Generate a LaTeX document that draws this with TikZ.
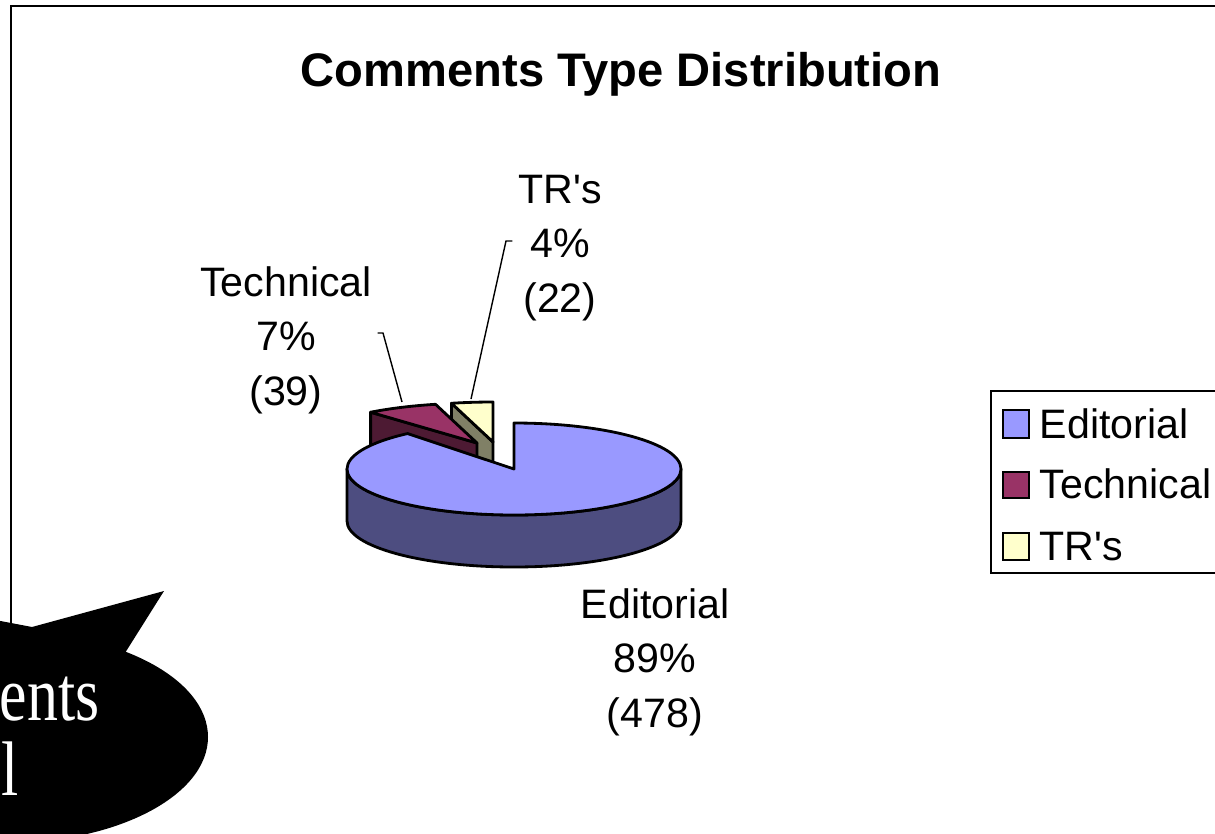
\documentclass[tikz,border=0pt]{standalone}
\usepackage{fontspec}
\setmainfont{Liberation Sans}
\newfontfamily\calloutfont{Liberation Serif}
\usepackage{graphicx}
\definecolor{edtop}{HTML}{9999FF}
\definecolor{edside}{HTML}{4D4D80}
\definecolor{techtop}{HTML}{993366}
\definecolor{techside}{HTML}{4D1A33}
\definecolor{trtop}{HTML}{FFFFCC}
\definecolor{trside}{HTML}{808066}
\tikzset{
  frame/.style={draw=black,line width=0.7pt},
  edge/.style={draw=black,line width=0.8pt,line join=round},
  lbl/.style={align=center,inner sep=1.5pt,font=\fontsize{11.7}{15.5}\selectfont},
  leader/.style={draw=black,line width=0.4pt},
  legsq/.style={draw=black,line width=0.6pt},
  legtxt/.style={anchor=base west,inner sep=0pt,font=\fontsize{11.7}{15.5}\selectfont},
  callout/.style={text=white,inner sep=0pt,font=\calloutfont\fontsize{22}{26}\selectfont}
}

\begin{document}
\begin{tikzpicture}[x=0.01cm,y=0.01cm]
                    \useasboundingbox (0,0) rectangle (1215,-833);
                    \clip (0,0) rectangle (1215,-833);
                    \draw[frame] (11,-6) rectangle (1240,-860);
                    \node[anchor=base,inner sep=0pt,font=\fontsize{13.4}{16}\selectfont\bfseries] (title) at (621,-86) {Comments Type Distribution};

                    \filldraw[edge,fill=trside] (451.5,-403.3) -- (493,-442) -- (493,-494) -- (451.5,-455.3) -- cycle;
                    \filldraw[edge,fill=trtop] (493,-442) -- (493,-402) arc[start angle=90,end angle=104.4,x radius=167,y radius=40] -- cycle;

                    \filldraw[edge,fill=techside] (370.6,-412.2) -- (477,-443) -- (477,-495) -- (370.6,-464.2) -- cycle;
                    \filldraw[edge,fill=techtop] (477,-443) -- (435.5,-404.3) arc[start angle=104.4,end angle=129.6,x radius=167,y radius=40] -- cycle;

                    \filldraw[edge,fill=edside] (681,-469) arc[start angle=0,end angle=-180,x radius=167,y radius=46] -- (347,-521) arc[start angle=180,end angle=360,x radius=167,y radius=46] -- cycle;
                    \filldraw[edge,fill=edtop] (514,-469) -- (514,-423) arc[start angle=90,end angle=-230.4,x radius=167,y radius=46] -- cycle;

                    \node[lbl] (techlbl) at (286,-340) {Technical\\7\%\\(39)};
                    \node[lbl] (trlbl) at (560,-248) {TR\textquotesingle s\\4\%\\(22)};
                    \node[lbl] (edlbl) at (655,-662) {Editorial\\89\%\\(478)};

                    \coordinate (techknee) at (383,-333);
                    \coordinate (techtip) at (402,-402);
                    \coordinate (trknee) at (506,-241);
                    \coordinate (trtip) at (471,-399);
                    \draw[leader] (techlbl.east |- techknee) -- (techknee) -- (techtip);
                    \draw[leader] (trlbl.west |- trknee) -- (trknee) -- (trtip);

                    \draw[frame] (991,-391) rectangle (1240,-573);
                    \draw[legsq,fill=edtop] (1003,-410) rectangle (1029,-438);
                    \draw[legsq,fill=techtop] (1003,-472) rectangle (1029,-498);
                    \draw[legsq,fill=trtop] (1003,-533) rectangle (1029,-560);
                    \node[legtxt] (leged) at (1039,-438) {Editorial};
                    \node[legtxt] (legtech) at (1039,-498) {Technical};
                    \node[legtxt] (legtr) at (1039,-560) {TR\textquotesingle s};

                    \fill[black] (5,-737) ellipse[x radius=203,y radius=106];
                    \fill[black] (-10,-619) -- (32,-627) -- (164,-591) -- (125,-653) -- (5,-660) -- cycle;
                    \node[callout,anchor=base west] (calltop) at (-1,-720) {\scalebox{0.8}[1]{ents}};
                    \node[callout,anchor=base west] (callbot) at (1,-795) {\scalebox{0.8}[1]{l}};
                \end{tikzpicture}
\end{document}
